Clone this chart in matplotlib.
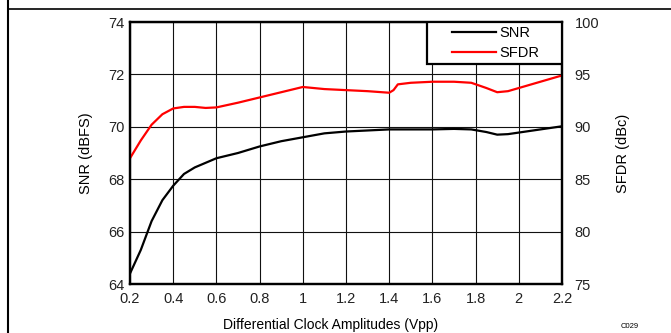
import numpy as np
import matplotlib
matplotlib.use('Agg')
import matplotlib.pyplot as plt
from matplotlib.lines import Line2D
from matplotlib.patches import Rectangle

plt.rcParams['font.family'] = ['Liberation Sans', 'DejaVu Sans']

# clock amplitude (Vpp) vs SNR (dBFS)
snr_x = [0.2, 0.25, 0.3, 0.35, 0.4, 0.45, 0.5, 0.6, 0.7, 0.8, 0.9, 1.0, 1.1, 1.2, 1.3,
         1.4, 1.5, 1.6, 1.7, 1.78, 1.85, 1.9, 1.95, 2.0, 2.1, 2.2]
snr = [64.4, 65.3, 66.4, 67.2, 67.75, 68.2, 68.45, 68.8, 69.0, 69.25, 69.45, 69.6, 69.75,
       69.82, 69.86, 69.9, 69.9, 69.9, 69.92, 69.9, 69.8, 69.7, 69.72, 69.78, 69.9, 70.02]

# clock amplitude (Vpp) vs SFDR (dBc)
sfdr_x = [0.2, 0.25, 0.3, 0.35, 0.4, 0.45, 0.5, 0.55, 0.6, 0.7, 0.8, 0.9, 1.0, 1.1, 1.2,
          1.3, 1.4, 1.42, 1.44, 1.5, 1.6, 1.7, 1.78, 1.85, 1.9, 1.95, 2.0, 2.1, 2.2]
sfdr = [87.0, 88.7, 90.2, 91.2, 91.75, 91.9, 91.9, 91.8, 91.85, 92.3, 92.8, 93.3, 93.8,
        93.6, 93.5, 93.4, 93.25, 93.5, 94.05, 94.2, 94.3, 94.3, 94.2, 93.7, 93.3, 93.4,
        93.7, 94.3, 94.9]

x_ticks = [0.2, 0.4, 0.6, 0.8, 1.0, 1.2, 1.4, 1.6, 1.8, 2.0, 2.2]
x_labels = ['0.2', '0.4', '0.6', '0.8', '1', '1.2', '1.4', '1.6', '1.8', '2', '2.2']
snr_ticks = [64, 66, 68, 70, 72, 74]
sfdr_ticks = [75, 80, 85, 90, 95, 100]

W, H = 671, 333
fig = plt.figure(figsize=(W / 100, H / 100), dpi=100)
ax = fig.add_axes([130 / W, 49 / H, 432 / W, 262 / H])
ax2 = ax.twinx()

ax.set_xlim(0.2, 2.2)
ax.set_ylim(64, 74)
ax.set_xticks(x_ticks)
ax.set_xticklabels(x_labels)
ax.set_yticks(snr_ticks)
ax.grid(True, color='#111111', lw=0.8)
ax.tick_params(length=0, labelsize=10.5, colors='#222222')
ax.tick_params(axis='y', pad=4)
ax.tick_params(axis='x', pad=6)

ax2.set_ylim(75, 100)
ax2.set_yticks(sfdr_ticks)
ax2.tick_params(length=0, labelsize=10.5, pad=9, colors='#222222')

for a in (ax, ax2):
    for s in a.spines.values():
        s.set_linewidth(1.6)
        s.set_color('black')

l1, = ax.plot(snr_x, snr, color='black', lw=1.6, label='SNR')
l2, = ax2.plot(sfdr_x, sfdr, color='#ff0000', lw=1.6, label='SFDR')

ax.set_xlabel('Differential Clock Amplitudes (Vpp)', fontsize=10)
ax.xaxis.set_label_coords((331 - 130) / 432, -0.128)
ax.set_ylabel('SNR (dBFS)', fontsize=10.5, labelpad=11)
ax2.set_ylabel('SFDR (dBc)', fontsize=10.5, labelpad=12)

# legend box: x 427..562 px, y 22..64 px
bx0, bx1 = (427 - 130) / 432, 1.0
by0, by1 = (284 - 64) / 262, 1.0
ax2.add_patch(Rectangle((bx0, by0), bx1 - bx0, by1 - by0, transform=ax2.transAxes,
                        facecolor='white', edgecolor='black', lw=1.6, zorder=5))
leg = ax2.legend(handles=[l1, l2], loc='center', bbox_to_anchor=((bx0 + bx1) / 2 + 0.003, (by0 + by1) / 2),
                 fontsize=10.5, frameon=False, borderaxespad=0, handlelength=3.0,
                 borderpad=0.2, labelspacing=0.45, handletextpad=0.25)
leg.set_zorder(6)

fig.text(630 / W, 1 - 326 / H, 'C029', fontsize=5.5, ha='center', va='center')

# page frame
fig.add_artist(Line2D([7.5 / W, 7.5 / W], [0, 1], color='black', lw=1.5))
fig.add_artist(Line2D([7.5 / W, 1], [1 - 9 / H, 1 - 9 / H], color='black', lw=1.2))

fig.savefig('out.png', dpi=100)
